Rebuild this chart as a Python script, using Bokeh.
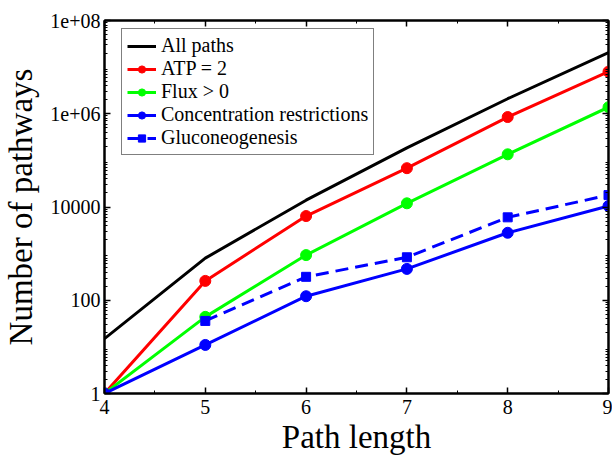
from bokeh.plotting import figure
from bokeh.models import (Range1d, FixedTicker, LogAxis, LinearAxis, Legend, LegendItem,
                          CustomJSTickFormatter)
from bokeh.embed import file_html
from bokeh.resources import INLINE

# ---- data ----
path_length = [4, 5, 6, 7, 8, 9]
all_paths = [15, 800, 14000, 185000, 2100000, 20500000]
atp_2 = [1, 260, 6400, 68000, 850000, 8000000]
flux_pos = [1, 44, 930, 12000, 135000, 1380000]
conc_restr = [1, 11, 122, 470, 2800, 10500]
gluco_x = [5, 6, 7, 8, 9]
gluconeogenesis = [36, 318, 835, 6000, 18000]

x_ticks = [4, 5, 6, 7, 8, 9]
y_ticks = [1, 100, 10000, 1000000, 100000000]

FONT = "Liberation Serif"

p = figure(width=612, height=457, output_backend="svg", toolbar_location=None,
           y_axis_type="log", x_range=Range1d(4, 9), y_range=Range1d(1, 1e8),
           min_border_left=104, min_border_right=4, min_border_top=20, min_border_bottom=63)
p.grid.visible = False
p.outline_line_color = "black"
p.outline_line_width = 2
p.background_fill_color = "white"
p.border_fill_color = "white"

x_minor = [4.5, 5.5, 6.5, 7.5, 8.5]
y_minor = [m * 10 ** d for d in range(8) for m in range(2, 10)]
fmt = CustomJSTickFormatter(code="""
    if (tick >= 1e6) { return '1e+0' + Math.round(Math.log10(tick)); }
    return tick.toFixed(0);
""")
blank = CustomJSTickFormatter(code="return '';")


def style_axis(ax, show_labels):
    ax.axis_line_color = "black"
    ax.axis_line_width = 2
    ax.major_tick_in = 6
    ax.major_tick_out = 0
    ax.minor_tick_in = 3
    ax.minor_tick_out = 0
    ax.major_tick_line_color = "black"
    ax.major_tick_line_width = 1.5
    ax.minor_tick_line_color = "black"
    ax.minor_tick_line_width = 1
    if show_labels:
        ax.major_label_text_font = FONT
        ax.major_label_text_font_size = "20px"
        ax.major_label_text_color = "black"
        ax.axis_label_text_font = FONT
        ax.axis_label_text_font_size = "33px"
        ax.axis_label_text_font_style = "normal"
        ax.axis_label_text_color = "black"
    else:
        ax.formatter = blank
        ax.major_label_text_color = None
        ax.major_label_standoff = 0
        ax.axis_label = None


xa = p.xaxis[0]
xa.ticker = FixedTicker(ticks=x_ticks, minor_ticks=x_minor)
xa.axis_label = "Path length"
style_axis(xa, True)
xa.major_label_standoff = 6
xa.axis_label_standoff = 2

ya = p.yaxis[0]
ya.ticker = FixedTicker(ticks=y_ticks, minor_ticks=y_minor)
ya.formatter = fmt
ya.axis_label = "Number of pathways"
style_axis(ya, True)
ya.major_label_standoff = 4
ya.axis_label_standoff = 8

top = LinearAxis(ticker=FixedTicker(ticks=x_ticks, minor_ticks=x_minor))
style_axis(top, False)
p.add_layout(top, "above")
right = LogAxis(ticker=FixedTicker(ticks=y_ticks, minor_ticks=y_minor))
style_axis(right, False)
p.add_layout(right, "right")

LW = 3
r_all = p.line(path_length, all_paths, line_color="black", line_width=LW)
r_atp_l = p.line(path_length, atp_2, line_color="#ff0000", line_width=LW)
r_atp_s = p.scatter(path_length, atp_2, marker="circle", size=11, color="#ff0000")
r_flux_l = p.line(path_length, flux_pos, line_color="#00ff00", line_width=LW)
r_flux_s = p.scatter(path_length, flux_pos, marker="circle", size=11, color="#00ff00")
r_glu_l = p.line(gluco_x, gluconeogenesis, line_color="#0000ff", line_width=LW, line_dash="13 7")
r_glu_s = p.scatter(gluco_x, gluconeogenesis, marker="square", size=9, color="#0000ff")
r_con_l = p.line(path_length, conc_restr, line_color="#0000ff", line_width=LW)
r_con_s = p.scatter(path_length, conc_restr, marker="circle", size=11, color="#0000ff")

legend = Legend(items=[
    LegendItem(label="All paths", renderers=[r_all]),
    LegendItem(label="ATP = 2", renderers=[r_atp_l, r_atp_s]),
    LegendItem(label="Flux > 0", renderers=[r_flux_l, r_flux_s]),
    LegendItem(label="Concentration restrictions", renderers=[r_con_l, r_con_s]),
    LegendItem(label="Gluconeogenesis", renderers=[r_glu_l, r_glu_s]),
])
legend.location = (17, 238)
legend.margin = 0
legend.padding = 5
legend.spacing = 0
legend.label_height = 18
legend.glyph_height = 18
legend.glyph_width = 29
legend.label_standoff = 5
legend.label_text_font = FONT
legend.label_text_font_size = "20px"
legend.label_text_color = "black"
legend.border_line_color = "black"
legend.border_line_width = 1
legend.background_fill_color = "white"
legend.background_fill_alpha = 1
p.add_layout(legend, "center")

open("out.html", "w").write(file_html(p, INLINE))
